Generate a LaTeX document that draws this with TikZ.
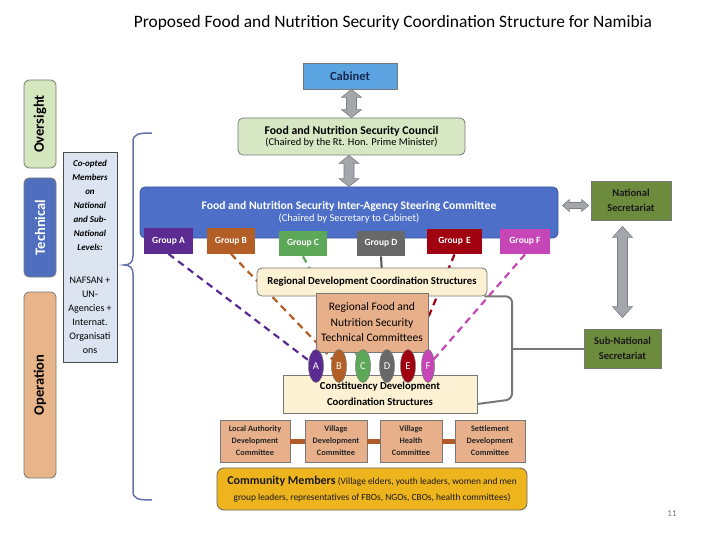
\documentclass[tikz,border=0pt]{standalone}
\usepackage{fontspec}
\setmainfont{Carlito}
\usetikzlibrary{calc,shapes.geometric,backgrounds}
\definecolor{oversc}{RGB}{212,230,190}
\definecolor{techc}{RGB}{79,111,190}
\definecolor{operc}{RGB}{232,180,138}
\definecolor{coopc}{RGB}{220,228,242}
\definecolor{cabc}{RGB}{91,164,225}
\definecolor{councc}{RGB}{215,231,196}
\definecolor{steerc}{RGB}{77,111,199}
\definecolor{grA}{RGB}{91,43,145}
\definecolor{grB}{RGB}{178,94,36}
\definecolor{grC}{RGB}{92,167,88}
\definecolor{grD}{RGB}{104,104,104}
\definecolor{grE}{RGB}{160,0,16}
\definecolor{grF}{RGB}{198,70,184}
\definecolor{olivec}{RGB}{109,139,61}
\definecolor{creamc}{RGB}{252,241,210}
\definecolor{tanc}{RGB}{232,176,138}
\definecolor{goldc}{RGB}{238,180,30}
\definecolor{bracec}{RGB}{100,115,170}
\definecolor{arrfill}{RGB}{165,165,172}
\definecolor{arrdraw}{RGB}{125,125,135}
\definecolor{navyc}{RGB}{25,40,80}
\definecolor{barc}{RGB}{176,90,40}
\definecolor{edgec}{RGB}{120,120,120}
\newcommand\cpt[1]{{\fontsize{9}{14}\selectfont\bfseries\itshape #1}}
\newcommand\vdblarrow[5]{% from, to, head half width, shaft half width, head length
  \filldraw[dblar] let \p1=(#1), \p2=(#2) in
   (\x2,\y1) -- (\x2+#3,\y1-#5) -- (\x2+#4,\y1-#5) -- (\x2+#4,\y2+#5) -- (\x2+#3,\y2+#5)
   -- (\x2,\y2) -- (\x2-#3,\y2+#5) -- (\x2-#4,\y2+#5) -- (\x2-#4,\y1-#5) -- (\x2-#3,\y1-#5) -- cycle;}
\newcommand\hdblarrow[5]{%
  \filldraw[dblar] let \p1=(#1), \p2=(#2) in
   (\x1,\y2) -- (\x1+#5,\y2+#3) -- (\x1+#5,\y2+#4) -- (\x2-#5,\y2+#4) -- (\x2-#5,\y2+#3)
   -- (\x2,\y2) -- (\x2-#5,\y2-#3) -- (\x2-#5,\y2-#4) -- (\x1+#5,\y2-#4) -- (\x1+#5,\y2-#3) -- cycle;}
\begin{document}
\begin{tikzpicture}[x=1pt,y=-1pt,
  box/.style={draw=edgec, line width=0.8pt, inner sep=1pt, align=center},
  rbox/.style={box, rounded corners=5pt},
  tab/.style={rbox, rotate=90, minimum height=32pt, font=\fontsize{14.5}{16}\selectfont\bfseries},
  grp/.style={box, draw=none, minimum height=25pt, text=white, font=\fontsize{9.5}{10}\selectfont\bfseries},
  oval/.style={ellipse, draw=edgec, line width=0.5pt, minimum width=15pt, minimum height=33pt, inner sep=0pt, text=white, font=\fontsize{10.5}{11}\selectfont},
  locbox/.style={box, fill=tanc, minimum height=42pt, font=\fontsize{8.3}{12}\selectfont\bfseries, text=black!85},
  secbox/.style={box, fill=olivec, minimum height=39pt, font=\fontsize{10.5}{15}\selectfont\bfseries, text=black!90},
  dashln/.style={line width=2.2pt, dash pattern=on 7pt off 5pt},
  dblar/.style={fill=arrfill, draw=arrdraw, line width=0.6pt},
  conn/.style={draw=edgec, line width=2pt}]
\useasboundingbox (0,0) rectangle (720,540);

% title
\node[font=\fontsize{17.4}{20}\selectfont] (title) at (393,23) {Proposed Food and Nutrition Security Coordination Structure for Namibia};

% side tabs
\node[tab, fill=oversc, minimum width=88pt] (over) at (40,124) {Oversight};
\node[tab, fill=techc, text=white, minimum width=99pt] (tech) at (40,227.5) {Technical};
\node[tab, fill=operc, minimum width=186pt] (oper) at (40,385) {Operation};

% co-opted box
\node[box, draw=black!70, fill=coopc, minimum width=54pt, minimum height=210pt, font=\fontsize{10}{14}\selectfont] (coop) at (90,257)
 {\cpt{Co-opted}\\\cpt{Members}\\\cpt{on}\\\cpt{National}\\\cpt{and Sub-}\\\cpt{National}\\\cpt{Levels:}\\[19pt]NAFSAN +\\UN-\\Agencies +\\Internat.\\Organisati\\ons};

% brace
\draw[bracec, line width=1.5pt] (152,133) .. controls (138,133) and (133,134) .. (133,142) -- (133,256)
  .. controls (133,262) and (130,265) .. (124,265) .. controls (130,265) and (133,268) .. (133,274)
  -- (133,491) .. controls (133,499) and (138,500) .. (152,500);

% top chain
\node[box, fill=cabc, minimum width=94pt, minimum height=26pt, text=navyc, font=\fontsize{12.5}{14}\selectfont\bfseries] (cab) at (350,76) {Cabinet};
\node[rbox, fill=councc, minimum width=227pt, minimum height=37pt] (coun) at (351.5,136.5)
 {{\fontsize{11.8}{13}\selectfont\bfseries Food and Nutrition Security Council}\\[-1pt]{\fontsize{10.5}{12}\selectfont (Chaired by the Rt. Hon. Prime Minister)}};
\node[rbox, draw=steerc!80!black, fill=steerc, minimum width=418pt, minimum height=51pt, text=white] (steer) at (349,212.5)
 {{\fontsize{11.6}{13}\selectfont\bfseries Food and Nutrition Security Inter-Agency Steering Committee}\\[0pt]{\fontsize{10.5}{12}\selectfont (Chaired by Secretary to Cabinet)}};

\vdblarrow{cab.south}{coun.north}{10pt}{5pt}{8pt}
\vdblarrow{coun.south}{steer.north}{10pt}{5pt}{8pt}

% groups
\node[grp, fill=grA, minimum width=49pt] (ga) at (168.5,241) {Group A};
\node[grp, fill=grB, minimum width=48pt] (gb) at (231,241) {Group B};
\node[grp, fill=grC, minimum width=48pt] (gc) at (303,243.5) {Group C};
\node[grp, fill=grD, minimum width=48pt] (gd) at (381,243.5) {Group D};
\node[grp, fill=grE, minimum width=55pt] (ge) at (454.5,241.5) {Group\,\,E};
\node[grp, fill=grF, minimum width=50pt] (gf) at (525,241.5) {Group F};

% secretariats
\node[secbox, minimum width=80pt] (nat) at (631,200.5) {National\\Secretariat};
\node[secbox, minimum width=77pt] (sub) at (622.5,348.5) {Sub-National\\Secretariat};
\hdblarrow{$(steer.east)+(4,0)$}{$(nat.west)+(-2,5)$}{6pt}{3pt}{7pt}
\vdblarrow{$(nat.south)+(0,6)$}{$(sub.north)+(0,-11)$}{10pt}{5pt}{11pt}

% regional structures
\node[rbox, fill=creamc, minimum width=230pt, minimum height=28pt, font=\fontsize{10.7}{12}\selectfont\bfseries] (reg) at (372,282) {Regional Development Coordination Structures};
\node[box, fill=tanc, minimum width=112pt, minimum height=59pt, font=\fontsize{11.5}{15.5}\selectfont] (rtc) at (372,322.5) {Regional Food and\\Nutrition Security\\Technical Committees};
\node[box, fill=creamc, minimum width=194pt, minimum height=38pt, font=\fontsize{10.7}{16}\selectfont\bfseries] (cons) at (380,394) {Constituency Development\\Coordination Structures};

% ovals
\node[oval, fill=grA] (ea) at (316,366) {A};
\node[oval, fill=grB] (eb) at (339,366) {B};
\node[oval, fill=grC] (ec) at (363,366) {C};
\node[oval, fill=grD] (ed) at (387,366) {D};
\node[oval, fill=grE] (ee) at (408,366) {E};
\node[oval, fill=grF, minimum width=13pt] (ef) at (428,366) {F};

% dashed group lines (behind)
\begin{scope}[on background layer]
\draw[dashln, grA] (ga.south) -- (ea.center);
\draw[dashln, grB] (gb.south) -- (eb.center);
\draw[dashln, grC] (gc.south) -- (ec.center);
\draw[line width=2pt, grD!80!black] (gd.south) -- (ed.center);
\draw[dashln, grE] (ge.south) -- (ee.center);
\draw[dashln, grF] (gf.south) -- (ef.center);
\end{scope}

% right bracket to sub-national secretariat
\coordinate (brx) at (512,300);
\draw[conn, rounded corners=6pt] ($(reg.south east)+(-3,0)$) -- (brx |- reg.south) -- ($(brx |- cons.south)+(0,-14)$) -- ($(cons.east)+(0,10)$);
\draw[conn] (brx |- sub.west) -- (sub.west);

% local committees
\node[locbox, minimum width=70pt] (lac) at (255,441) {Local Authority\\Development\\Committee};
\node[locbox, minimum width=62pt] (vdc) at (336,441) {Village\\Development\\Committee};
\node[locbox, minimum width=62pt] (vhc) at (411,441) {Village\\Health\\Committee};
\node[locbox, minimum width=70pt] (sdc) at (490,441) {Settlement\\Development\\Committee};
\draw[barc, line width=5pt] (lac.east) -- (vdc.west);
\draw[barc, line width=5pt] (vdc.east) -- (vhc.west);
\draw[barc, line width=5pt] (vhc.east) -- (sdc.west);

% community members
\node[rbox, draw=black!60, fill=goldc, minimum width=310pt, minimum height=42pt, rounded corners=7pt, font=\fontsize{9.4}{16.5}\selectfont, text=black!90] (comm) at (372,489)
 {{\fontsize{12}{14}\selectfont\bfseries Community Members} (Village elders, youth leaders, women and men\\group leaders, representatives of FBOs, NGOs, CBOs, health committees)};

% page number
\node[text=black!55, font=\fontsize{9}{10}\selectfont] (pnum) at (672,514) {11};
\end{tikzpicture}
\end{document}
